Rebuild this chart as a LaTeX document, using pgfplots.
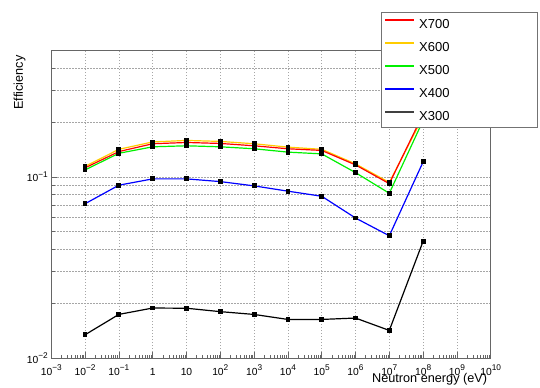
\documentclass[border=0pt]{standalone}
\usepackage{fontspec}
\setmainfont{Liberation Sans}
\usepackage{pgfplots}
\pgfplotsset{compat=1.18}
\definecolor{cred}{RGB}{255,0,0}
\definecolor{cyel}{RGB}{255,204,0}
\definecolor{cgrn}{RGB}{0,240,0}
\definecolor{cblu}{RGB}{0,0,255}
\newcommand\sps[1]{\raisebox{0.42em}{\fontsize{8.3bp}{9bp}\selectfont #1}}
\newcommand\tfont{\fontsize{10.3bp}{12bp}\selectfont}
\newcommand\lfont{\fontsize{12.7bp}{15bp}\selectfont}
\begin{document}
\begin{tikzpicture}
\path[use as bounding box] (0,0) rectangle (540bp,388bp);
\begin{axis}[
  at={(51.3bp,30bp)}, anchor=south west,
  scale only axis, width=439.4bp, height=307.7bp,
  xmode=log, ymode=log,
  xmin=1e-3, xmax=1e10, ymin=0.01, ymax=0.5,
  xtick={1e-3,1e-2,1e-1,1,1e1,1e2,1e3,1e4,1e5,1e6,1e7,1e8,1e9,1e10},
  xticklabels={10\sps{−3},10\sps{−2},10\sps{−1},1,10,10\sps{2},10\sps{3},10\sps{4},10\sps{5},10\sps{6},10\sps{7},10\sps{8},10\sps{9},10\sps{10}},
  minor xtick={2e-3,3e-3,4e-3,5e-3,6e-3,7e-3,8e-3,9e-3,
    2e-2,3e-2,4e-2,5e-2,6e-2,7e-2,8e-2,9e-2,
    2e-1,3e-1,4e-1,5e-1,6e-1,7e-1,8e-1,9e-1,
    2,3,4,5,6,7,8,9,
    20,30,40,50,60,70,80,90,
    2e2,3e2,4e2,5e2,6e2,7e2,8e2,9e2,
    2e3,3e3,4e3,5e3,6e3,7e3,8e3,9e3,
    2e4,3e4,4e4,5e4,6e4,7e4,8e4,9e4,
    2e5,3e5,4e5,5e5,6e5,7e5,8e5,9e5,
    2e6,3e6,4e6,5e6,6e6,7e6,8e6,9e6,
    2e7,3e7,4e7,5e7,6e7,7e7,8e7,9e7,
    2e8,3e8,4e8,5e8,6e8,7e8,8e8,9e8,
    2e9,3e9,4e9,5e9,6e9,7e9,8e9,9e9},
  ytick={0.01,0.1},
  yticklabels={10\sps{−2},10\sps{−1}},
  minor ytick={0.02,0.03,0.04,0.05,0.06,0.07,0.08,0.09,0.2,0.3,0.4},
  xmajorgrids=true, xminorgrids=false, ymajorgrids=true, yminorgrids=true,
  major grid style={black!35, dash pattern=on 1.5bp off 1.5bp, line width=0.5bp},
  minor grid style={black!35, dash pattern=on 1.5bp off 1.5bp, line width=0.5bp},
  tick align=inside, xtick pos=bottom, ytick pos=left,
  major tick length=6bp, minor tick length=3.5bp,
  tick style={black!60, line width=0.5bp},
  axis line style={black!60, line width=0.7bp},
  tick label style={font=\tfont},
  xticklabel style={anchor=base, yshift=-17bp},
  label style={font=\lfont},
  xlabel={Neutron energy (eV)},
  xlabel style={at={(axis description cs:1,-0.078)}, anchor=base east},
  ylabel={Efficiency},
  ylabel style={at={(axis description cs:-0.0724,0.995)}, anchor=east, rotate=0},
  every axis plot/.append style={line width=1.2bp, mark=square*, mark size=1.8bp, mark options={fill=black, draw=black, solid}},
  legend cell align=left,
  legend image code/.code={\path[#1] (0bp,3.5bp) rectangle (29bp,5.5bp);},
  legend style={at={(axis description cs:0.7504,1.1235)}, anchor=north west,
    draw=black!55, fill=white, line width=0.6bp, inner sep=4bp,
    font=\fontsize{13bp}{15bp}\selectfont,
    nodes={inner xsep=1.7bp, inner ysep=3bp, text height=9bp, text depth=0bp},
    row sep=8bp, column sep=3.2bp},
]
\addlegendimage{fill=cred, draw=none}
\addlegendentry{\makebox[112bp][l]{X700}}
\addlegendimage{fill=cyel, draw=none}
\addlegendentry{\makebox[112bp][l]{X600}}
\addlegendimage{fill=cgrn, draw=none}
\addlegendentry{\makebox[112bp][l]{X500}}
\addlegendimage{fill=cblu, draw=none}
\addlegendentry{\makebox[112bp][l]{X400}}
\addlegendimage{fill=black!75, draw=none}
\addlegendentry{\makebox[112bp][l]{X300}}
\addplot[black, forget plot] coordinates {(1e-2,0.01344) (1e-1,0.01741) (1,0.01888) (1e1,0.01883) (1e2,0.01803) (1e3,0.0174) (1e4,0.01633) (1e5,0.01633) (1e6,0.01662) (1e7,0.0142) (1e8,0.0441)};
\addplot[cblu, forget plot] coordinates {(1e-2,0.0711) (1e-1,0.090) (1,0.0975) (1e1,0.0975) (1e2,0.0942) (1e3,0.0892) (1e4,0.0834) (1e5,0.0782) (1e6,0.0593) (1e7,0.0473) (1e8,0.121)};
\addplot[cgrn, forget plot] coordinates {(1e-2,0.1093) (1e-1,0.135) (1,0.1466) (1e1,0.1485) (1e2,0.1466) (1e3,0.143) (1e4,0.137) (1e5,0.134) (1e6,0.1056) (1e7,0.0812) (1e8,0.205)};
\addplot[cyel, forget plot] coordinates {(1e-2,0.1143) (1e-1,0.142) (1,0.156) (1e1,0.159) (1e2,0.157) (1e3,0.1524) (1e4,0.146) (1e5,0.142) (1e6,0.118) (1e7,0.0932) (1e8,0.215)};
\addplot[cred, forget plot] coordinates {(1e-2,0.1122) (1e-1,0.138) (1,0.1524) (1e1,0.1549) (1e2,0.153) (1e3,0.1485) (1e4,0.143) (1e5,0.140) (1e6,0.1165) (1e7,0.0918) (1e8,0.222)};
\end{axis}
\end{tikzpicture}
\end{document}
